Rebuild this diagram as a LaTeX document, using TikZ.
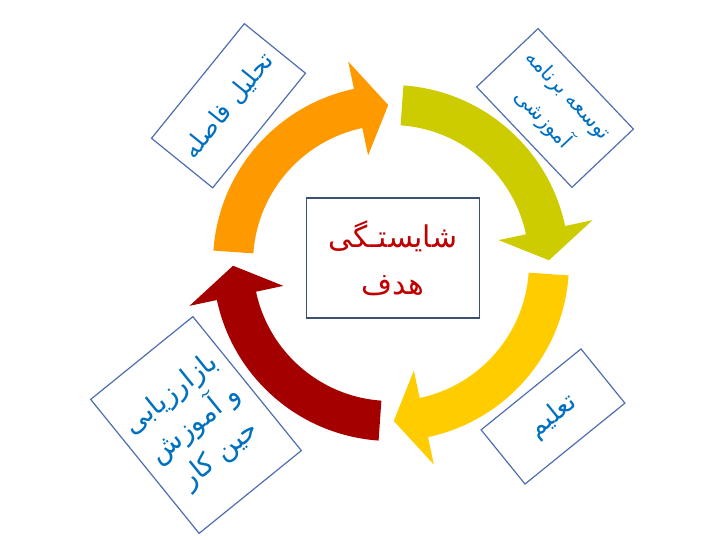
\documentclass[tikz,border=0pt]{standalone}
\usepackage{fontspec}
\newfontfamily\arabicfont[Script=Arabic]{DejaVu Sans}
\TeXXeTstate=1
\usetikzlibrary{calc}

\definecolor{ringOrange}{RGB}{255,153,0}
\definecolor{ringGreen}{RGB}{204,204,0}
\definecolor{ringYellow}{RGB}{255,204,0}
\definecolor{ringRed}{RGB}{165,0,0}
\definecolor{boxBlue}{RGB}{79,110,176}
\definecolor{textBlue}{RGB}{0,112,192}
\definecolor{goalFrame}{RGB}{60,80,112}
\definecolor{goalRed}{RGB}{192,0,0}

\begin{document}
\begin{tikzpicture}[x=1bp,y=1bp,
  stagebox/.style={draw=boxBlue,line width=1.2bp,fill=white,inner sep=0pt,
    align=center,text=textBlue,font=\arabicfont\fontsize{21}{35}\selectfont},
  goalbox/.style={draw=goalFrame,line width=1.6bp,fill=white,inner sep=0pt,
    align=center,text=goalRed,font=\arabicfont\fontsize{30}{47}\selectfont}]
  \useasboundingbox (0,0) rectangle (720,-540);

  % Cycle arrows (tail angle / colour)
  \foreach \a/\col in {176/ringOrange,86/ringGreen,-4/ringYellow,-94/ringRed} {
    \fill[\col,shift={(391,-263)}] (\a:138)
      arc[start angle=\a,end angle=\a-74,radius=138]
      -- (\a-74:110) -- (\a-85:158) -- (\a-74:206) -- (\a-74:178)
      arc[start angle=\a-74,end angle=\a,radius=178] -- cycle;
  }

  % Centre
  \node[goalbox,minimum width=174,minimum height=120] (goal) at (393,-258)
    {\beginR شایستـگی\endR\\ \beginR هدف\endR};

  % Stages
  \node[stagebox,rotate=51,minimum width=148,minimum height=79,
    font=\arabicfont\fontsize{25}{30}\selectfont] (gap) at (228.5,-105.75)
    {\beginR تحلیل فاصله\endR};
  \node[stagebox,rotate=-46.5,minimum width=139,minimum height=85] (plan) at (555,-108)
    {\beginR توسعه برنامه\endR\\ \beginR آموزشی\endR};
  \node[stagebox,rotate=39,minimum width=129,minimum height=70,
    font=\arabicfont\fontsize{26}{30}\selectfont] (train) at (553,-416.5)
    {\beginR تعلیم\endR};
  \node[stagebox,rotate=39,minimum width=132,minimum height=173,
    font=\arabicfont\fontsize{28}{39}\selectfont] (review) at (196,-425)
    {\beginR بازارزیابی\endR\\ \beginR و آموزش\endR\\ \beginR حین کار\endR};
\end{tikzpicture}
\end{document}
